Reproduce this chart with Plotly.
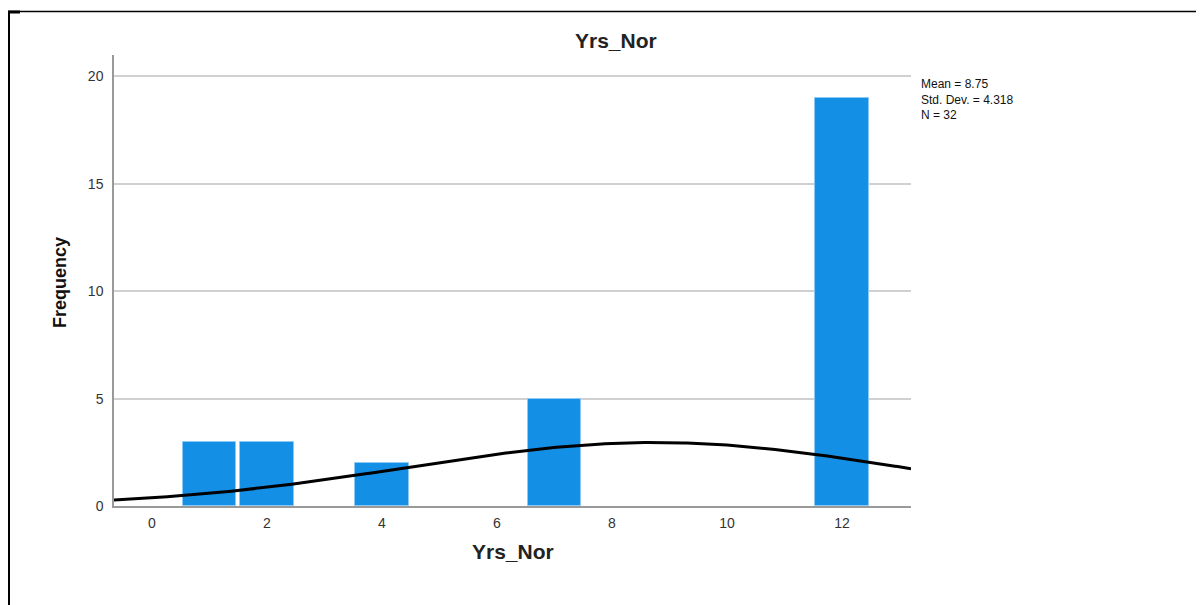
import numpy as np
import plotly.graph_objects as go

# Data
values = [1, 2, 4, 7, 12]
freqs = [3, 3, 2, 5, 19]
mean_val = 8.75
std_val = 4.318
n_val = 32
bin_width = 1
x_ticks = [0, 2, 4, 6, 8, 10, 12]
y_ticks = [0, 5, 10, 15, 20]
stats_lines = ["Mean = 8.75", "Std. Dev. = 4.318", "N = 32"]

OFF = 8  # page body margin
W, H = 1204 - OFF, 605 - OFF
# plot-area edges in page pixels
L, R, T, B = 114, 911, 55, 506
xr = [-0.661, 13.2]
yr = [0, 21]

def px(p):
    return (p - L) / (R - L)

def py(p):
    return (B - p) / (B - T)

xc = np.linspace(xr[0], xr[1], 300)
yc = n_val * bin_width / (std_val * np.sqrt(2 * np.pi)) * np.exp(-0.5 * ((xc - mean_val) / std_val) ** 2)

fig = go.Figure()
fig.add_trace(go.Bar(
    x=values, y=freqs, width=0.93,
    marker=dict(color="#138FE6", line=dict(color="#8ccaf5", width=1)),
    hoverinfo="x+y",
))
fig.add_trace(go.Scatter(x=xc, y=yc, mode="lines", line=dict(color="black", width=3), hoverinfo="skip"))

font = "Liberation Sans, Arial, sans-serif"
fig.update_layout(
    width=W, height=H,
    margin=dict(l=L - OFF, r=W - (R - OFF), t=T - OFF, b=H - (B - OFF), pad=0),
    paper_bgcolor="white", plot_bgcolor="white",
    showlegend=False,
    font=dict(family=font, color="#222"),
    xaxis=dict(range=xr, tickvals=x_ticks, showgrid=False, zeroline=False,
               showline=True, linecolor="#999", linewidth=1.5, ticks="",
               tickfont=dict(size=14, color="#333"), ticklabelstandoff=3),
    yaxis=dict(range=yr, tickvals=y_ticks, showgrid=True, gridcolor="#d0d0d0", gridwidth=1.5,
               zeroline=False, showline=True, linecolor="#999", linewidth=1.5, ticks="",
               tickfont=dict(size=14, color="#333"), ticklabelstandoff=6),
    bargap=0,
)

annotations = [
    dict(text="<b>Yrs_Nor</b>", x=px(616), y=py(40), xref="paper", yref="paper",
         showarrow=False, font=dict(size=21, color="#222", family=font), xanchor="center", yanchor="middle"),
    dict(text="<b>Yrs_Nor</b>", x=px(513), y=py(551), xref="paper", yref="paper",
         showarrow=False, font=dict(size=21, color="#222", family=font), xanchor="center", yanchor="middle"),
    dict(text="<b>Frequency</b>", x=px(60), y=py(283), xref="paper", yref="paper", textangle=-90,
         showarrow=False, font=dict(size=18, color="#111", family=font),
         xanchor="center", yanchor="middle"),
    dict(text="<br>".join(stats_lines), x=px(920), y=py(76), xref="paper", yref="paper",
         showarrow=False, font=dict(size=12, color="#111", family=font), align="left",
         borderpad=0, xanchor="left", yanchor="top"),
]
fig.update_layout(annotations=annotations)

shapes = [
    dict(type="line", xref="paper", yref="paper", x0=px(8.5), x1=px(8.5), y0=py(11), y1=py(610),
         line=dict(color="black", width=3)),
    dict(type="line", xref="paper", yref="paper", x0=px(8), x1=px(1210), y0=py(11.5), y1=py(11.5),
         line=dict(color="black", width=1.5)),
    dict(type="line", xref="paper", yref="paper", x0=px(8), x1=px(20), y0=py(12), y1=py(12),
         line=dict(color="black", width=3)),
]
fig.update_layout(shapes=shapes)

fig.write_html("out.html")
